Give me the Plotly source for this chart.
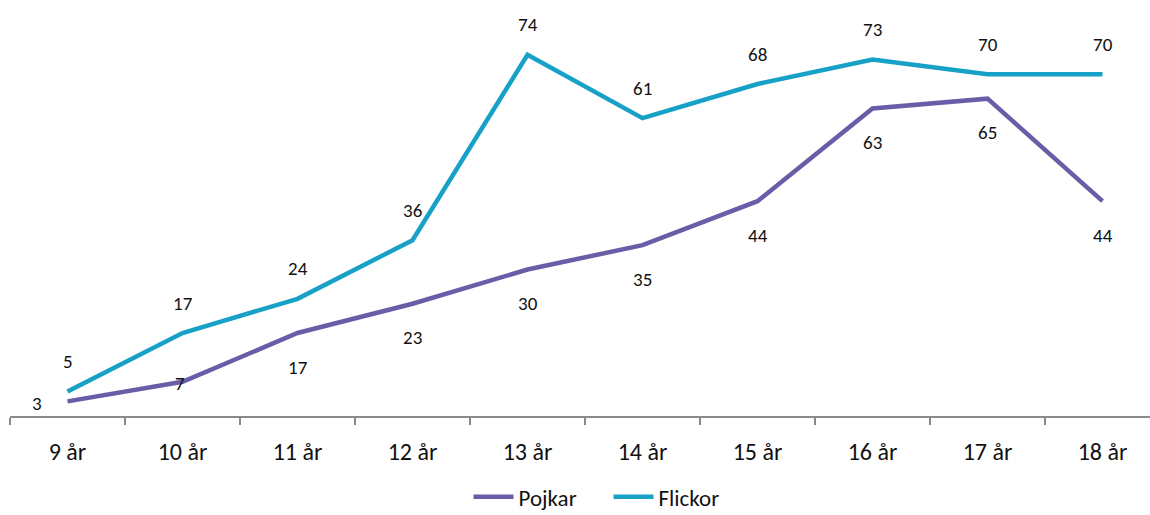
import plotly.graph_objects as go

ages = ["9 år", "10 år", "11 år", "12 år", "13 år", "14 år", "15 år", "16 år", "17 år", "18 år"]
pojkar = [3, 7, 17, 23, 30, 35, 44, 63, 65, 44]
flickor = [5, 17, 24, 36, 74, 61, 68, 73, 70, 70]

PURPLE = "#6B5CA8"
TEAL = "#18A1C6"
AXIS = "#8A8A8A"
FONT = "Carlito, Lato, sans-serif"

fig = go.Figure()
fig.add_trace(go.Scatter(x=ages, y=pojkar, name="Pojkar", mode="lines",
                         line=dict(color=PURPLE, width=4.5)))
fig.add_trace(go.Scatter(x=ages, y=flickor, name="Flickor", mode="lines",
                         line=dict(color=TEAL, width=4.5)))

annotations = []
for i, (a, v) in enumerate(zip(ages, flickor)):
    annotations.append(dict(x=a, y=v, text=str(v), showarrow=False,
                            yshift=30, font=dict(size=19, color="#111", family=FONT)))
for i, (a, v) in enumerate(zip(ages, pojkar)):
    # first two labels sit beside the line, near the axis
    if i == 0:
        xs, ys = -31, -2
    elif i == 1:
        xs, ys = -3, -2
    else:
        xs, ys = 0, -34
    annotations.append(dict(x=a, y=v, text=str(v), showarrow=False,
                            xshift=xs, yshift=ys, font=dict(size=19, color="#111", family=FONT)))

fig.update_layout(
    width=1150, height=515,
    margin=dict(l=10, r=0, t=1, b=99, autoexpand=False),
    paper_bgcolor="white", plot_bgcolor="white",
    font=dict(family=FONT, color="#111"),
    showlegend=True,
    legend=dict(orientation="h", x=0.525, xanchor="center", y=-0.195, yanchor="middle",
                font=dict(size=23, family=FONT, color="#111"),
                itemwidth=40, entrywidth=85, entrywidthmode="pixels"),
    annotations=annotations,
    xaxis=dict(type="category", range=[-0.5, 9.413], tickson="boundaries",
               showline=True, linecolor=AXIS, linewidth=2,
               ticks="outside", ticklen=7, tickwidth=2, tickcolor=AXIS,
               showgrid=False, ticklabelstandoff=13,
               tickfont=dict(size=24, family=FONT, color="#111")),
    yaxis=dict(range=[0, 85], visible=False, showgrid=False, zeroline=False),
)

fig.write_html("out.html")
